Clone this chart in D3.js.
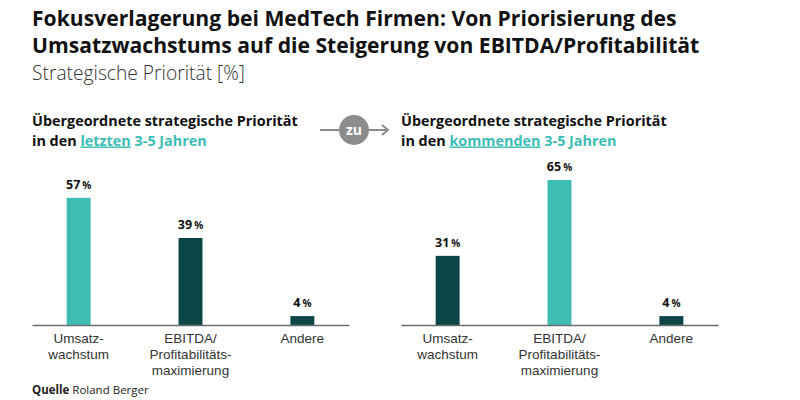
<!DOCTYPE html>
<html lang="de">
<head>
<meta charset="utf-8">
<title>Fokusverlagerung bei MedTech Firmen</title>
<script src="https://d3js.org/d3.v7.min.js"></script>
<style>
    body { margin: 0; background: #fff; font-family: 'Open Sans', 'Noto Sans', sans-serif; }
    .title { font-size: 21px; font-weight: 700; fill: #111; }
    .subtitle { font-size: 17px; font-weight: 300; fill: #333; }
    .head { font-size: 14px; font-weight: 700; fill: #111; }
    .hl { fill: #3dbdb3; }
    .val { font-size: 12.5px; font-weight: 700; fill: #111; }
    .cat { font-size: 13.5px; fill: #333; }
    .src { font-size: 11.5px; fill: #222; }
</style>
</head>
<body>
<div id="chart"></div>
<script>
// data
const categories = ["Umsatz-|wachstum", "EBITDA/|Profitabilitäts-|maximierung", "Andere"];
const pastValues = [57, 39, 4];
const futureValues = [31, 65, 4];
const titleLines = [
    "Fokusverlagerung bei MedTech Firmen: Von Priorisierung des",
    "Umsatzwachstums auf die Steigerung von EBITDA/Profitabilität"
];
const panelWords = ["letzten", "kommenden"];

const W = 800, H = 400;
const teal = "#3dbdb3", dark = "#0b4546";

const svg = d3.select("#chart").append("svg")
    .attr("width", W).attr("height", H);

// scale font so the widest part of a text spans a given width
function fitTo(sel, part, target) {
    const len = part.node().getComputedTextLength();
    const fs = parseFloat(getComputedStyle(sel.node()).fontSize);
    sel.style("font-size", (fs * target / len) + "px");
}

const title = svg.append("text").attr("class", "title").attr("y", 26);
title.selectAll("tspan").data(titleLines).join("tspan")
    .attr("x", 32).attr("dy", (d, i) => i ? 27 : 0).text(d => d);
fitTo(title, title.select("tspan:last-child"), 668);

const sub = svg.append("text").attr("class", "subtitle").attr("x", 32).attr("y", 80)
    .text("Strategische Priorität [%]");
fitTo(sub, sub, 213);

const y = d3.scaleLinear().domain([0, 65]).range([325, 180]);

function panel(x0, x1, values, word) {
    const g = svg.append("g");

    const head = g.append("text").attr("class", "head").attr("y", 126);
    const l1 = head.append("tspan").attr("x", x0).text("Übergeordnete strategische Priorität");
    const l2 = head.append("tspan").attr("x", x0).attr("dy", 19.5);
    l2.append("tspan").text("in den ");
    l2.append("tspan").attr("class", "hl").style("text-decoration", "underline").text(word);
    l2.append("tspan").attr("class", "hl").text(" 3-5 Jahren");
    fitTo(head, l1, 266);

    const x = d3.scaleBand().domain(categories).range([x0, x1])
        .paddingInner(0.786).paddingOuter(0.31);
    const maxV = d3.max(values);

    g.selectAll("rect.bar").data(values).join("rect")
        .attr("class", "bar")
        .attr("x", (d, i) => x(categories[i]))
        .attr("y", d => y(d))
        .attr("width", x.bandwidth())
        .attr("height", d => y(0) - y(d))
        .attr("fill", d => d === maxV ? teal : dark);

    const lbl = g.selectAll("text.val").data(values).join("text")
        .attr("class", "val")
        .attr("x", (d, i) => x(categories[i]) + x.bandwidth() / 2)
        .attr("y", d => y(d) - 9)
        .attr("text-anchor", "middle");
    lbl.append("tspan").text(d => d);
    lbl.append("tspan").attr("dx", 2).style("font-size", "10px").text("%");

    const ax = g.append("g")
        .attr("transform", `translate(0,${y(0)})`)
        .call(d3.axisBottom(x).tickSize(0).tickSizeOuter(0).tickFormat(""));
    ax.select(".domain").attr("stroke", "#6e6e6e").attr("stroke-width", 1.5);

    ax.selectAll(".tick").each(function (d) {
        const txt = d3.select(this).append("text")
            .attr("class", "cat")
            .attr("text-anchor", "middle")
            .attr("fill", "#333");
        d.split("|").forEach((ln, i) => {
            txt.append("tspan").attr("x", 0).attr("y", 18 + i * 16).text(ln);
        });
    });
}

panel(32, 349, pastValues, panelWords[0]);
panel(401, 718, futureValues, panelWords[1]);

// "zu" connector between panels
const conn = svg.append("g");
conn.append("line").attr("x1", 320).attr("x2", 339).attr("y1", 130).attr("y2", 130)
    .attr("stroke", "#8c8c8c").attr("stroke-width", 2);
conn.append("circle").attr("cx", 354).attr("cy", 130).attr("r", 15).attr("fill", "#8c8c8c");
conn.append("text").attr("x", 354).attr("y", 135).attr("text-anchor", "middle")
    .attr("fill", "#fff").style("font-size", "14px").style("font-weight", 700).text("zu");
conn.append("line").attr("x1", 369).attr("x2", 387).attr("y1", 130).attr("y2", 130)
    .attr("stroke", "#8c8c8c").attr("stroke-width", 2);
conn.append("path").attr("d", "M382,125 L388,130 L382,135")
    .attr("fill", "none").attr("stroke", "#8c8c8c").attr("stroke-width", 2);

const src = svg.append("text").attr("class", "src").attr("x", 32).attr("y", 394);
src.append("tspan").style("font-weight", 700).text("Quelle ");
src.append("tspan").text("Roland Berger");
</script>
</body>
</html>
